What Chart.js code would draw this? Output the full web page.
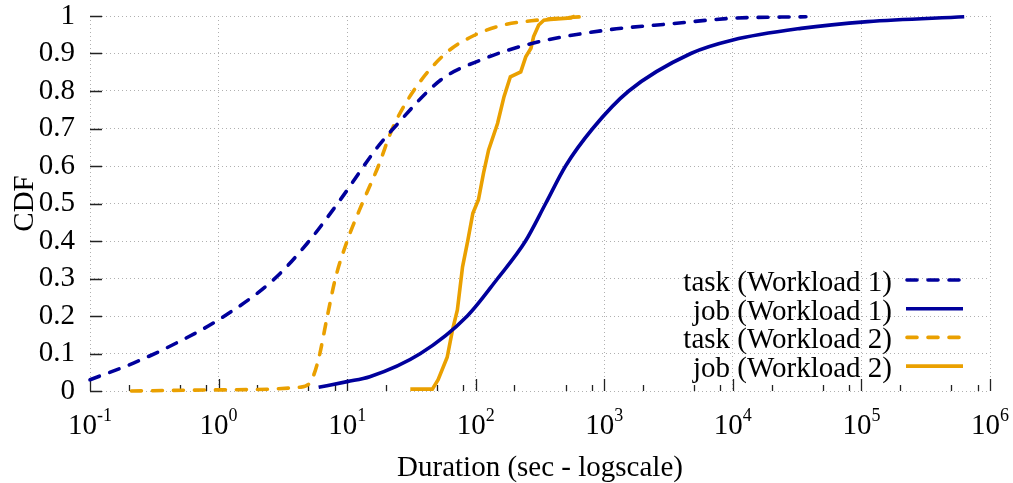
<!DOCTYPE html>
<html><head><meta charset="utf-8">
<script src="https://cdn.jsdelivr.net/npm/chart.js@4/dist/chart.umd.min.js"></script>
<style>html,body{margin:0;padding:0;background:#fff;overflow:hidden}#wrap{width:1013px;height:483px}</style>
</head><body><div id="wrap"><canvas id="c" width="1013" height="483"></canvas></div>
<script>
// ---- data (duration in seconds, CDF) ----
const taskW1X = [0.1, 0.22, 0.47, 1.0, 2.66, 4.9, 8.85, 17.2, 22.9, 53.7, 110, 282, 1070, 3470, 10000, 37000];
const taskW1Y = [0.03, 0.075, 0.128, 0.19, 0.296, 0.394, 0.51, 0.65, 0.70, 0.83, 0.883, 0.928, 0.963, 0.98, 0.994, 0.998];

const jobW1X = [6.0, 10, 15, 37.2, 86, 148, 244, 350, 500, 813, 1550, 4710, 10000, 33900, 112000, 630000];
const jobW1Y = [0.01, 0.025, 0.038, 0.1, 0.2, 0.3, 0.4, 0.5, 0.6, 0.7, 0.8, 0.9, 0.936, 0.967, 0.985, 0.998];

const taskW2X = [0.21, 1.0, 4.3, 5.2, 5.97, 7.0, 8.1, 10, 13.1, 17.5, 22.5, 32.8, 58.2, 99.6, 164, 302, 655];
const taskW2Y = [0.0, 0.003, 0.01, 0.025, 0.083, 0.198, 0.30, 0.40, 0.50, 0.60, 0.70, 0.80, 0.90, 0.95, 0.976, 0.989, 0.998];

const jobW2X = [31, 46, 51, 60, 66, 72, 79, 87, 95, 105, 115, 126, 148, 166, 186, 224, 245, 269, 282, 309, 339, 380, 550, 590];
const jobW2Y = [0.005, 0.005, 0.03, 0.09, 0.163, 0.216, 0.331, 0.403, 0.474, 0.51, 0.581, 0.643, 0.714, 0.785, 0.838, 0.851, 0.891, 0.914, 0.945, 0.976, 0.989, 0.991, 0.995, 1.0];

const seriesLabels = ['task (Workload 1)', 'job (Workload 1)', 'task (Workload 2)', 'job (Workload 2)'];
const xTickExponents = [-1, 0, 1, 2, 3, 4, 5, 6];
const xMinorMultipliers = [2, 5, 8];
const yTicks = [0, 0.1, 0.2, 0.3, 0.4, 0.5, 0.6, 0.7, 0.8, 0.9, 1];

// ---- styles ----
const BLUE = '#00009c', ORANGE = '#eaa000';
const FONT = 'Liberation Serif';
const DASH = [10, 11];
const LW = 3.6;

const pts = (xs, ys) => xs.map((x, i) => ({x: x, y: ys[i]}));

const inwardTicks = {
  id: 'inwardTicks',
  beforeDatasetsDraw(chart) {
    const {ctx, chartArea: {left, bottom}, scales: {x, y}} = chart;
    ctx.save();
    ctx.strokeStyle = '#222';
    ctx.lineWidth = 1.3;
    ctx.beginPath();
    yTicks.forEach(v => {
      const py = Math.round(y.getPixelForValue(v)) + 0.5;
      ctx.moveTo(left, py); ctx.lineTo(left + 12, py);
    });
    xTickExponents.forEach((e, i) => {
      const px = Math.round(x.getPixelForValue(Math.pow(10, e))) + 0.5;
      ctx.moveTo(px, bottom); ctx.lineTo(px, bottom - 12);
      if (i < xTickExponents.length - 1) {
        xMinorMultipliers.forEach(m => {
          const mx = Math.round(x.getPixelForValue(m * Math.pow(10, e))) + 0.5;
          ctx.moveTo(mx, bottom); ctx.lineTo(mx, bottom - 6);
        });
      }
    });
    ctx.stroke();
    ctx.restore();
  }
};

const powerLabels = {
  id: 'powerLabels',
  afterDraw(chart) {
    const {ctx, chartArea: {bottom}, scales: {x}} = chart;
    ctx.save();
    ctx.fillStyle = '#000';
    ctx.textBaseline = 'alphabetic';
    ctx.textAlign = 'left';
    xTickExponents.forEach(e => {
      const px = x.getPixelForValue(Math.pow(10, e));
      const base = '10', exp = String(e);
      ctx.font = '29px "' + FONT + '"';
      const wb = ctx.measureText(base).width;
      ctx.font = '18px "' + FONT + '"';
      const we = ctx.measureText(exp).width;
      const x0 = px - (wb + we) / 2;
      ctx.font = '29px "' + FONT + '"';
      ctx.fillText(base, x0, bottom + 43);
      ctx.font = '18px "' + FONT + '"';
      ctx.fillText(exp, x0 + wb, bottom + 30);
    });
    ctx.restore();
  }
};

const innerLegend = {
  id: 'innerLegend',
  afterDatasetsDraw(chart) {
    const ctx = chart.ctx;
    const textRight = 892, lineL = 906, lineR = 963, y0 = 280, dy = 28.7;
    ctx.save();
    chart.data.datasets.forEach((ds, i) => {
      const yy = y0 + i * dy;
      ctx.font = '29px "' + FONT + '"';
      ctx.fillStyle = '#000';
      ctx.textAlign = 'right';
      ctx.textBaseline = 'alphabetic';
      ctx.fillText(ds.label, textRight, yy + 11);
      ctx.strokeStyle = ds.borderColor;
      ctx.lineWidth = ds.borderWidth;
      ctx.lineCap = ds.borderCapStyle || 'butt';
      ctx.setLineDash(ds.borderDash || []);
      ctx.lineDashOffset = -1;
      ctx.beginPath();
      ctx.moveTo(lineL, yy); ctx.lineTo(lineR, yy);
      ctx.stroke();
    });
    ctx.restore();
  }
};

const gridStyle = {color: '#b0b0b0', lineWidth: 1, drawTicks: false, borderDash: [1, 3]};
const borderStyle = {display: false, dash: [1, 3]};

new Chart(document.getElementById('c'), {
  type: 'line',
  data: {
    datasets: [
      {label: seriesLabels[0], data: pts(taskW1X, taskW1Y), borderColor: BLUE, borderDash: DASH, borderCapStyle: 'round', cubicInterpolationMode: 'monotone'},
      {label: seriesLabels[1], data: pts(jobW1X, jobW1Y), borderColor: BLUE, cubicInterpolationMode: 'monotone'},
      {label: seriesLabels[2], data: pts(taskW2X, taskW2Y), borderColor: ORANGE, borderDash: DASH, borderCapStyle: 'round', cubicInterpolationMode: 'monotone'},
      {label: seriesLabels[3], data: pts(jobW2X, jobW2Y), borderColor: ORANGE, tension: 0}
    ].map(d => Object.assign({pointRadius: 0, fill: false, clip: false, borderWidth: LW}, d))
  },
  options: {
    responsive: false,
    animation: false,
    devicePixelRatio: 1,
    layout: {padding: {left: 0, right: 23, top: 16, bottom: 0}},
    plugins: {legend: {display: false}, tooltip: {enabled: false}},
    scales: {
      x: {
        type: 'logarithmic', min: 0.1, max: 1e6,
        afterBuildTicks: s => { s.ticks = xTickExponents.map(e => ({value: Math.pow(10, e), major: true})); },
        afterFit: s => { s.height = 92; s.paddingLeft = 0; s.paddingRight = 0; },
        grid: gridStyle, border: borderStyle,
        ticks: {display: false},
        title: {display: true, text: 'Duration (sec - logscale)', color: '#000', font: {family: FONT, size: 29, lineHeight: 1}, padding: {top: 0, bottom: 0}}
      },
      y: {
        type: 'linear', min: 0, max: 1,
        afterBuildTicks: s => { s.ticks = yTicks.map(v => ({value: v})); },
        afterFit: s => { s.width = 90; s.paddingTop = 0; s.paddingBottom = 0; },
        grid: gridStyle, border: borderStyle,
        ticks: {color: '#000', font: {family: FONT, size: 29, lineHeight: 1}, padding: 15,
          callback: v => (v === 0 ? '0' : v === 1 ? '1' : Number(v).toFixed(1))},
        title: {display: true, text: 'CDF', color: '#000', font: {family: FONT, size: 29}, padding: {top: 8, bottom: 0}}
      }
    }
  },
  plugins: [inwardTicks, powerLabels, innerLegend]
});
</script></body></html>
